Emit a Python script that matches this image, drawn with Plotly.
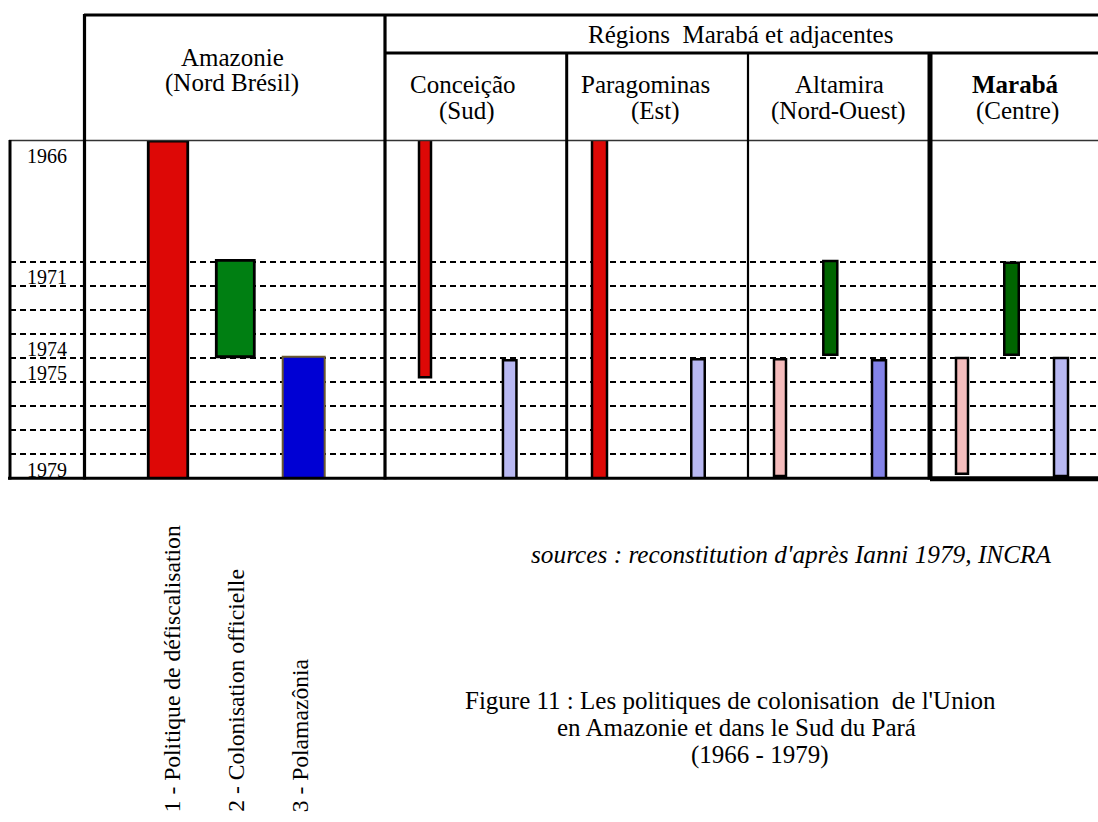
import plotly.graph_objects as go

# ---------------- data ----------------
year_labels = [1966, 1971, 1974, 1975, 1979]
grid_years = [1970, 1971, 1972, 1973, 1974, 1975, 1976, 1977, 1978]
year_top, year_bottom = 1965, 1979

region_names = ["Amazonie", "Conceição", "Paragominas", "Altamira", "Marabá"]
region_subtitles = ["(Nord Brésil)", "(Sud)", "(Est)", "(Nord-Ouest)", "(Centre)"]
group_title = "Régions  Marabá et adjacentes"

policy_labels = ["1 - Politique de défiscalisation",
                 "2 - Colonisation officielle",
                 "3 - Polamazônia"]

# one entry per bar: region, policy (1..3), start year, end year
bar_region = ["Amazonie", "Amazonie", "Amazonie",
              "Conceição", "Conceição",
              "Paragominas", "Paragominas",
              "Altamira", "Altamira", "Altamira",
              "Marabá", "Marabá", "Marabá"]
bar_policy = [1, 2, 3, 1, 3, 1, 3, 1, 2, 3, 1, 2, 3]
bar_start = [1965.0, 1969.95, 1973.95, 1964.93, 1974.1, 1964.93, 1974.05,
             1974.05, 1969.98, 1974.1, 1974.0, 1970.05, 1974.0]
bar_end = [1979.0, 1973.95, 1979.0, 1974.8, 1979.0, 1979.0, 1979.0,
           1978.9, 1973.87, 1979.05, 1978.8, 1973.87, 1978.9]

source_text = "sources : reconstitution d'après Ianni 1979, INCRA"
caption_lines = ["Figure 11 : Les politiques de colonisation  de l'Union",
                 "en Amazonie et dans le Sud du Pará",
                 "(1966 - 1979)"]

# ---------------- layout / styles ----------------
W, H = 1098, 822
FONT = "Liberation Serif"

# bar x-centres and widths (pixel units of the x axis)
bar_xc = [168, 235.3, 303.7, 425, 509.7, 599.5, 698, 780, 830.3, 879, 962, 1011.5, 1061]
bar_w = [39.5, 38, 42, 12, 13.5, 15, 13.5, 12, 14, 14, 12, 14.5, 14]
bar_fill = ["#dd0806", "#007f12", "#0000d4", "#dd0806", "#b8b8f2", "#dd0806", "#b8b8f2",
            "#f5bcbc", "#006400", "#8383e8", "#f5bcbc", "#006400", "#b8b8f2"]
bar_line = ["#000"] * 13
bar_line[2] = "#6b5a2e"
bar_lw = [2.8, 2.8, 2, 2.5, 2.5, 2.5, 2.5, 2.5, 2.5, 2.5, 2.5, 2.5, 2.5]

GRID_TOP_PX, GRID_BOT_PX = 141, 478.5


def py(p):
    return 1 - p / H


def px(p):
    return p / W


fig = go.Figure()
for i in range(len(bar_start)):
    fig.add_trace(go.Bar(
        x=[bar_xc[i]], base=[bar_start[i]], y=[bar_end[i] - bar_start[i]],
        width=[bar_w[i]],
        marker=dict(color=bar_fill[i], line=dict(color=bar_line[i], width=bar_lw[i])),
        name=f"{bar_region[i]} - {policy_labels[bar_policy[i] - 1]}",
        hoverinfo="skip", showlegend=False,
    ))

shapes = []


def hline(y, x0, x1, w, color="#000"):
    shapes.append(dict(type="line", xref="paper", yref="paper",
                       x0=px(x0), x1=px(x1), y0=py(y), y1=py(y),
                       line=dict(color=color, width=w)))


def vline(x, y0, y1, w, color="#000"):
    shapes.append(dict(type="line", xref="paper", yref="paper",
                       x0=px(x), x1=px(x), y0=py(y0), y1=py(y1),
                       line=dict(color=color, width=w)))


hline(15, 84, W + 2, 3)
hline(53, 385, W + 2, 3)
hline(140.5, 9, W + 2, 1.6, "#333")
vline(84.5, 14, 479.5, 3.2)
vline(10, 140, 479.5, 3)
vline(385, 14, 479.5, 3.2)
vline(566.7, 52, 479.5, 3)
vline(748, 52, 478, 2.2)
vline(930, 52, 479.5, 5)
hline(478.3, 8, 930, 3)
hline(478.8, 930, W + 2, 5)

ann = []


def text(x, y, s, size, xanchor="center", yanchor="middle", bold=False, italic=False, angle=0):
    if bold:
        s = f"<b>{s}</b>"
    if italic:
        s = f"<i>{s}</i>"
    ann.append(dict(x=px(x), y=py(y), xref="paper", yref="paper", text=s,
                    showarrow=False, xanchor=xanchor, yanchor=yanchor, borderpad=0,
                    textangle=angle, font=dict(family=FONT, size=size, color="#000")))


# header
text(232, 57.7, region_names[0], 25)
text(232, 83.5, region_subtitles[0], 25)
text(740.7, 34.7, group_title, 25)
head_x1 = [463, 645.5, 839, 1015.5]
head_x2 = [467, 655, 838, 1017]
for k in range(1, 5):
    text(head_x1[k - 1], 84.7, region_names[k], 25, bold=(region_names[k] == "Marabá"))
    text(head_x2[k - 1], 111, region_subtitles[k], 25)

# year labels (in data coordinates)
for yv in year_labels:
    ann.append(dict(x=47, y=yv, xref="x", yref="y", text=str(yv), showarrow=False,
                    xanchor="center", yanchor="bottom", yshift=-4,
                    font=dict(family=FONT, size=20, color="#000")))

# rotated policy labels
for xc, lab in zip([171.5, 236, 300], policy_labels):
    text(xc, 813.3, lab, 23.6, yanchor="bottom", angle=-90)

# source + caption
text(530, 554, source_text, 25.3, xanchor="left", italic=True)
for xs, yc, line in zip([464, 556, 690], [700, 727.5, 755], caption_lines):
    text(xs, yc, line, 25, xanchor="left")

fig.update_layout(
    width=W, height=H, margin=dict(l=0, r=0, t=0, b=0, pad=0),
    paper_bgcolor="white", plot_bgcolor="white",
    barmode="overlay", showlegend=False,
    shapes=shapes, annotations=ann,
    xaxis=dict(domain=[px(10), 1], range=[10, W], showgrid=False, zeroline=False,
               showticklabels=False, showline=False, ticks="", fixedrange=True),
    yaxis=dict(domain=[py(GRID_BOT_PX), py(GRID_TOP_PX)], range=[year_bottom, year_top],
               tickvals=grid_years, showticklabels=False, ticks="",
               showgrid=True, gridcolor="#000", gridwidth=1.6, griddash="6px,4px",
               zeroline=False, showline=False, fixedrange=True),
)

fig.write_html("out.html", config={"displayModeBar": False},
               post_script="document.body.style.margin='0px';")
